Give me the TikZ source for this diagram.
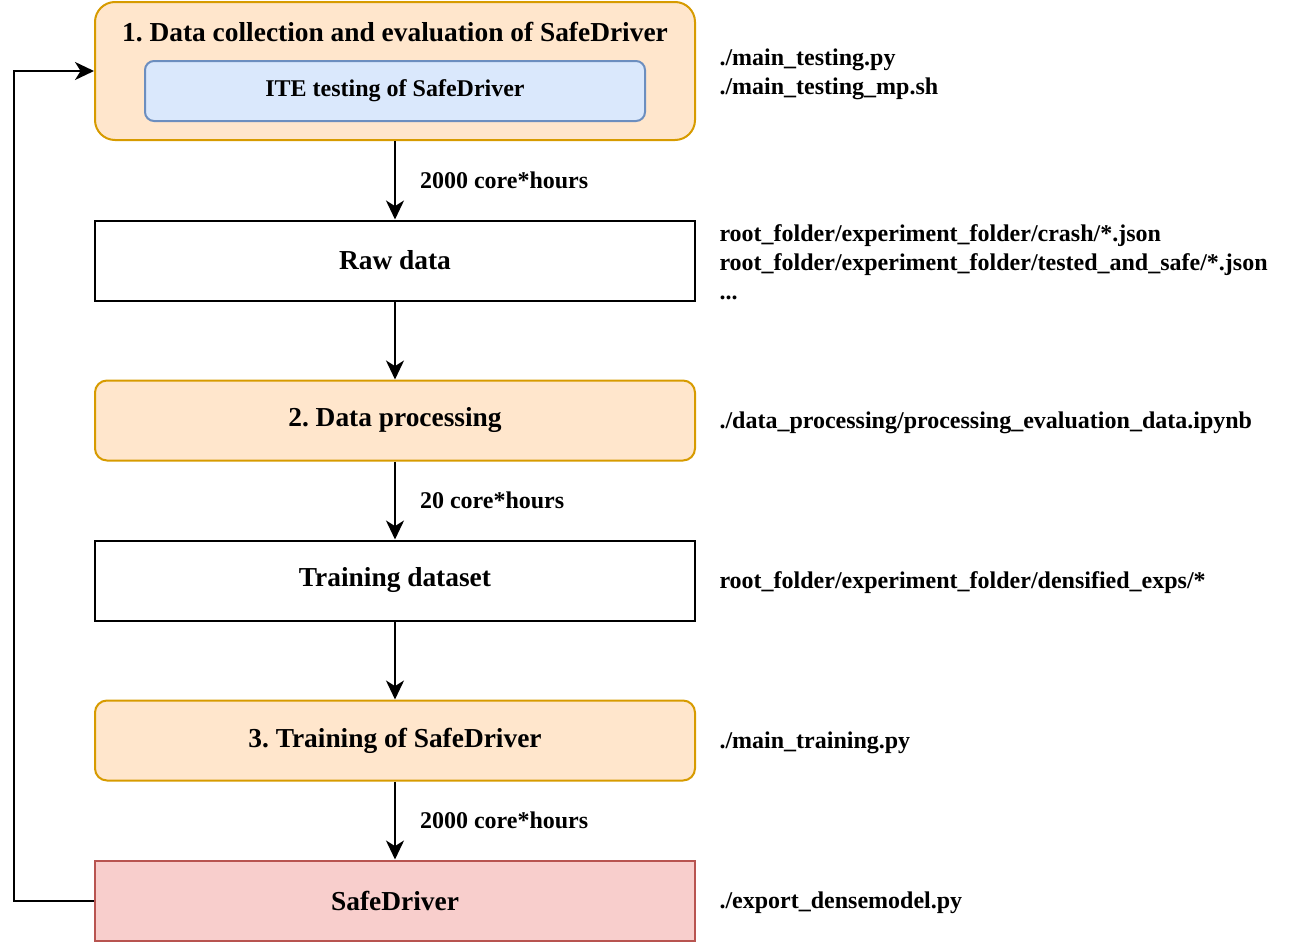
\documentclass[tikz,border=0pt]{standalone}
\usepackage{fontspec}
\setmainfont{Liberation Serif}
\usetikzlibrary{arrows.meta}
\definecolor{orfill}{HTML}{FFE6CC}
\definecolor{orline}{HTML}{D79B00}
\definecolor{blfill}{HTML}{DAE8FC}
\definecolor{blline}{HTML}{6C8EBF}
\definecolor{rdfill}{HTML}{F8CECC}
\definecolor{rdline}{HTML}{B85450}
\newcommand{\bigfnt}{\fontsize{13.7}{16.4}\selectfont\bfseries}
\newcommand{\smlfnt}{\fontsize{12}{14.6}\selectfont\bfseries}
\frenchspacing
\begin{document}
\begin{tikzpicture}[x=0.5pt,y=-0.5pt,line width=1pt,
  box/.style={draw, minimum width=300pt, minimum height=40pt, inner sep=0pt, font=\bigfnt},
  stage/.style={box, fill=orfill, draw=orline, rounded corners=6pt},
  plain/.style={box, fill=white, draw=black},
  result/.style={box, fill=rdfill, draw=rdline},
  arr/.style={-{Stealth[length=9.5pt,width=9pt,inset=2.8pt]}},
  lbl/.style={anchor=west, inner sep=0pt, xshift=12pt, font=\smlfnt},
  path/.style={anchor=west, inner sep=0pt, align=left, font=\smlfnt}]
\useasboundingbox (0,0) rectangle (1296,942);

\node[box, fill=orfill, draw=orline, rounded corners=10pt, minimum height=69pt] (box1) at (395,71) {};
\node[inner sep=0pt, font=\bigfnt] (title1) at (395,32) {1. Data collection and evaluation of SafeDriver};
\node[draw=blline, fill=blfill, rounded corners=4.5pt, minimum width=250pt, minimum height=30pt, inner sep=0pt, font=\smlfnt] (ite) at (395,91) {ITE testing of SafeDriver};

\node[plain] (raw) at (395,260.5) {Raw data};
\node[stage] (proc) at (395,420.5) {2. Data processing};
\node[plain] (tds) at (395,580.5) {Training dataset};
\node[stage] (train) at (395,740.5) {3. Training of SafeDriver};
\node[result] (safe) at (395,900.5) {SafeDriver};

\draw[arr] (box1) -- node[lbl]{2000 core*hours} (raw);
\draw[arr] (raw) -- (proc);
\draw[arr] (proc) -- node[lbl]{20 core*hours} (tds);
\draw[arr] (tds) -- (train);
\draw[arr] (train) -- node[lbl]{2000 core*hours} (safe);
\draw[arr] (safe.west) -- ++(-80,0) |- (box1.west);

\node[path] (p1) at (718.5,74) {./main\_testing.py\\./main\_testing\_mp.sh};
\node[path] (p2) at (718.5,262.5) {root\_folder/experiment\_folder/crash/*.json\\root\_folder/experiment\_folder/tested\_and\_safe/*.json\\...};
\node[path] (p3) at (718.5,423) {./data\_processing/processing\_evaluation\_data.ipynb};
\node[path] (p4) at (718.5,583) {root\_folder/experiment\_folder/densified\_exps/*};
\node[path] (p5) at (718.5,743) {./main\_training.py};
\node[path] (p6) at (718.5,903) {./export\_densemodel.py};
\end{tikzpicture}
\end{document}
